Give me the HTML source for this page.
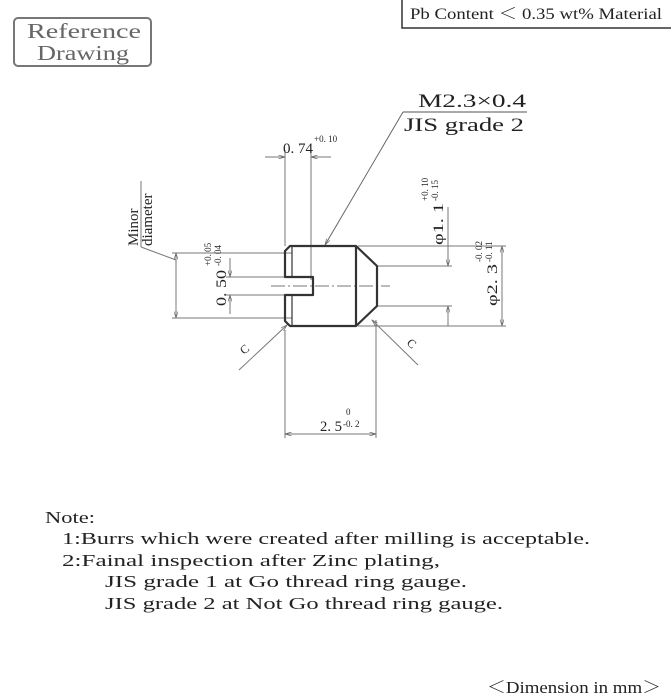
<!DOCTYPE html>
<html><head><meta charset="utf-8"><style>
html,body{margin:0;padding:0;background:#fff;}
svg{display:block;}
text{font-family:"Liberation Serif","Noto Serif CJK SC",serif;fill:#222;}
</style></head><body>
<svg width="671" height="700" viewBox="0 0 671 700" xmlns="http://www.w3.org/2000/svg">
<defs>
<marker id="a" viewBox="0 0 10 6" refX="10" refY="3" markerWidth="8" markerHeight="4" orient="auto-start-reverse"><path d="M0,0 L10,3 L0,6" fill="none" stroke="#666" stroke-width="1"/></marker>
</defs>
<rect x="14" y="18" width="137" height="48" rx="4" fill="none" stroke="#777" stroke-width="2"/>
<text x="27" y="38" font-size="21" textLength="114" lengthAdjust="spacingAndGlyphs" style="fill:#666">Reference</text>
<text x="37" y="60" font-size="21" textLength="92" lengthAdjust="spacingAndGlyphs" style="fill:#666">Drawing</text>
<path d="M402,0 V28 H671" fill="none" stroke="#333" stroke-width="1.5"/>
<text x="410" y="19" font-size="16" textLength="252" lengthAdjust="spacingAndGlyphs">Pb Content ＜ 0.35 wt% Material</text>
<text x="418" y="107" font-size="19" textLength="108" lengthAdjust="spacingAndGlyphs">M2.3×0.4</text>
<line x1="403" y1="112" x2="527" y2="112" stroke="#555"/>
<text x="404" y="131" font-size="19" textLength="120" lengthAdjust="spacingAndGlyphs">JIS grade 2</text>
<line x1="403" y1="112" x2="325" y2="245" stroke="#666" marker-end="url(#a)"/>
<g stroke="#777" stroke-width="1" fill="none">
<line x1="285" y1="150" x2="285" y2="246"/>
<line x1="311" y1="150" x2="311" y2="280"/>
<line x1="265" y1="157" x2="285" y2="157" marker-end="url(#a)"/>
<line x1="331" y1="157" x2="311" y2="157" marker-end="url(#a)"/>
<line x1="172" y1="253" x2="292" y2="253"/>
<line x1="172" y1="318" x2="292" y2="318"/>
<line x1="176" y1="253" x2="176" y2="318" marker-start="url(#a)" marker-end="url(#a)"/>
<line x1="176" y1="260" x2="141" y2="247"/>
<line x1="226" y1="277" x2="285" y2="277"/>
<line x1="226" y1="295" x2="285" y2="295"/>
<line x1="230" y1="258" x2="230" y2="277" marker-end="url(#a)"/>
<line x1="230" y1="314" x2="230" y2="295" marker-end="url(#a)"/>
<line x1="377" y1="266" x2="452" y2="266"/>
<line x1="377" y1="306" x2="452" y2="306"/>
<line x1="448" y1="207" x2="448" y2="266" marker-end="url(#a)"/>
<line x1="448" y1="326" x2="448" y2="306" marker-end="url(#a)"/>
<line x1="358" y1="246" x2="506" y2="246"/>
<line x1="358" y1="326" x2="506" y2="326"/>
<line x1="502" y1="246" x2="502" y2="326" marker-start="url(#a)" marker-end="url(#a)"/>
<line x1="285" y1="330" x2="285" y2="438"/>
<line x1="376" y1="320" x2="376" y2="438"/>
<line x1="285" y1="434" x2="376" y2="434" marker-start="url(#a)" marker-end="url(#a)"/>
<line x1="239" y1="370" x2="287" y2="325" marker-end="url(#a)"/>
<line x1="418" y1="365" x2="372" y2="320" marker-end="url(#a)"/>
<line x1="271" y1="286" x2="390" y2="286" stroke-dasharray="14,3,2,3"/>
</g>
<g stroke="#333" stroke-width="2.2" fill="none" stroke-linejoin="round">
<path d="M290,246 H356 L377,266 V306 L356,326 H290 L285,321 V295 H313 V277 H285 V251 Z"/>
<line x1="356" y1="246" x2="356" y2="326"/>
<line x1="292" y1="246" x2="292" y2="277" stroke-width="1.2"/>
<line x1="292" y1="295" x2="292" y2="326" stroke-width="1.2"/>
</g>
<text x="283" y="153" font-size="15" textLength="30" lengthAdjust="spacingAndGlyphs">0. 74</text>
<text x="314" y="142" font-size="9">+0. 10</text>
<text x="320" y="431" font-size="15" textLength="22" lengthAdjust="spacingAndGlyphs">2. 5</text>
<text x="346" y="415" font-size="9">0</text>
<text x="343" y="427" font-size="9">-0. 2</text>
<text transform="translate(226,306) rotate(-90)" font-size="15" textLength="36" lengthAdjust="spacingAndGlyphs">0. 50</text>
<text transform="translate(211,266) rotate(-90)" font-size="9">+0. 05</text>
<text transform="translate(221,266) rotate(-90)" font-size="9">-0. 04</text>
<text transform="translate(443,245) rotate(-90)" font-size="15" textLength="42" lengthAdjust="spacingAndGlyphs">φ1. 1</text>
<text transform="translate(428,201) rotate(-90)" font-size="9">+0. 10</text>
<text transform="translate(438,201) rotate(-90)" font-size="9">-0. 15</text>
<text transform="translate(497,306) rotate(-90)" font-size="15" textLength="42" lengthAdjust="spacingAndGlyphs">φ2. 3</text>
<text transform="translate(482,262) rotate(-90)" font-size="9">-0. 02</text>
<text transform="translate(492,262) rotate(-90)" font-size="9">-0. 11</text>
<text transform="translate(138,246) rotate(-90)" font-size="15">Minor</text>
<text transform="translate(152,246) rotate(-90)" font-size="15">diameter</text>
<line x1="141" y1="247" x2="141" y2="181" stroke="#777"/>
<text transform="translate(244,355) rotate(-40)" font-size="12">C</text>
<text transform="translate(406,344) rotate(40)" font-size="12">C</text>
<text x="45" y="523" font-size="17" textLength="50" lengthAdjust="spacingAndGlyphs">Note:</text>
<text x="62" y="544" font-size="17" textLength="528" lengthAdjust="spacingAndGlyphs">1:Burrs which were created after milling is acceptable.</text>
<text x="62" y="566" font-size="17" textLength="378" lengthAdjust="spacingAndGlyphs">2:Fainal inspection after Zinc plating,</text>
<text x="105" y="587" font-size="17" textLength="362" lengthAdjust="spacingAndGlyphs">JIS grade 1 at Go thread ring gauge.</text>
<text x="105" y="609" font-size="17" textLength="398" lengthAdjust="spacingAndGlyphs">JIS grade 2 at Not Go thread ring gauge.</text>
<text x="487" y="693" font-size="17" textLength="174" lengthAdjust="spacingAndGlyphs">＜Dimension in mm＞</text>
</svg>
</body></html>
